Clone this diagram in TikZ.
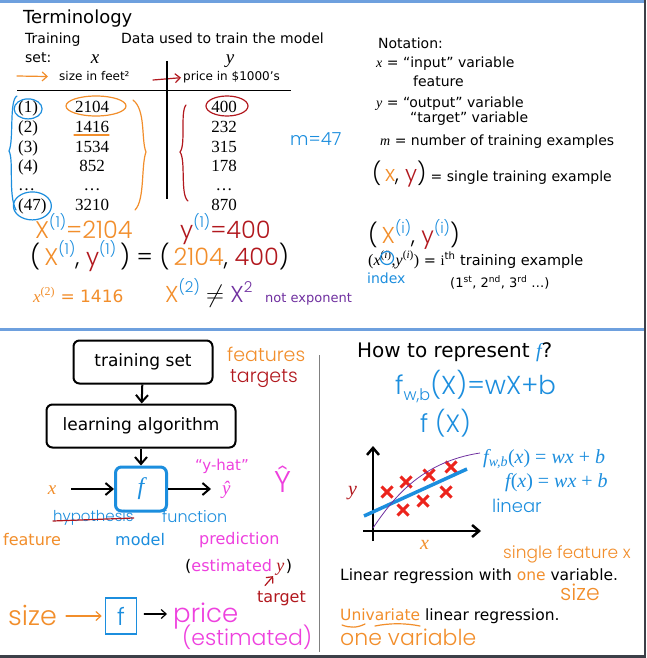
\documentclass[tikz,border=0pt]{standalone}
\usepackage{fontspec}
\setmainfont{DejaVu Sans}
\newfontfamily\hand{Poppins Light}
\newfontfamily\serif{Liberation Serif}
\usetikzlibrary{arrows.meta, positioning, calc}
\newcommand\fsz[1]{\fontsize{#1}{#1}\selectfont}
\newcommand\hsup[2]{\raisebox{.42em}{\fsz{#1}#2}}
\newcommand\mv[1]{{\serif\itshape #1}}
\definecolor{orng}{RGB}{242,142,43}
\definecolor{redd}{RGB}{178,24,30}
\definecolor{blu}{RGB}{28,142,222}
\definecolor{mag}{RGB}{238,64,222}
\definecolor{purp}{RGB}{112,48,160}
\definecolor{xred}{RGB}{236,36,28}
\definecolor{frame}{RGB}{110,160,222}
\definecolor{edge}{RGB}{60,64,72}
\tikzset{
  lbl/.style={anchor=base west, inner sep=0pt},
  lblc/.style={anchor=base, inner sep=0pt},
  body/.style={lbl, font=\fsz{14}},
  hw/.style={lbl, font=\hand\fsz{18}},
  num/.style={lblc, font=\serif\fsz{17}},
  pen/.style={line width=1.2pt, line cap=round},
  harr/.style={pen, -{Straight Barb[length=5pt,width=9pt]}},
  stepbox/.style={draw, rounded corners=6pt, line width=2pt,
                  minimum height=43pt, inner sep=0pt, font=\fsz{17}},
  flow/.style={-{Straight Barb[length=7pt,width=12pt]}, line width=2pt},
  xpt/.style={xred, line width=3pt},
}
\begin{document}
\begin{tikzpicture}[x=1pt, y=-1pt]
  \useasboundingbox (0,0) rectangle (646,658);
  \fill[white] (0,0) rectangle (646,658);
  % frame and dividers
  \draw[frame, line width=3pt] (0,1.5) -- (646,1.5);
  \draw[frame, line width=3pt] (0,329) -- (646,329);
  \draw[edge, line width=2pt] (645,0) -- (645,658);
  \draw[edge, line width=3pt] (0,656.5) -- (646,656.5);
  \draw[gray, line width=1pt] (319,355) -- (319,652);

  % --- terminology: training set table
  \node[lbl, font=\fsz{18}] (title) at (23,24) {Terminology};
  \node[body] (trn) at (25,44) {Training};
  \node[body] (setc) at (25,63) {set:};
  \node[body] (data) at (121,44) {Data used to train the model};
  \node[lblc, font=\serif\itshape\fsz{19}] (xhd) at (95,64) {x};
  \node[lblc, font=\serif\itshape\fsz{19}] (yhd) at (230,64) {y};
  \node[lbl, font=\fsz{12}] (szft) at (59,81) {size in feet²};
  \node[lbl, font=\fsz{12}] (prc) at (183,81) {price in \$1000’s};
  \coordinate (oarr) at (17,76);
  \coordinate (rarr) at (153,80);
  \draw[harr, orng] (oarr) -- ([xshift=-11pt]szft.west);
  \draw[harr, redd] (rarr) -- ([xshift=-2pt]prc.west);
  \draw[line width=1.5pt] (17,90.5) -- (291,90.5);
  \draw[line width=1.5pt] (167,61) -- (167,199);

  \foreach \n/\xv/\yv/\yy in {1/2104/400/113, 2/1416/232/132, 3/1534/315/152,
                              4/852/178/171, 47/3210/870/210} {
    \node[lbl, font=\serif\fsz{17}] (idx\n) at (18,\yy) {(\n)};
    \node[num] (xv\n) at (92,\yy) {\xv};
    \node[num] (yv\n) at (224,\yy) {\yv};
  }
  \node[lbl, font=\serif\fsz{17}] (idxd) at (18,190) {…};
  \node[num] (xvd) at (92,190) {…};
  \node[num] (yvd) at (224,190) {…};

  % hand marks on the table
  \draw[blu, pen] (idx1.center) ellipse [x radius=14pt, y radius=10pt];
  \draw[blu, pen] (idx47.center) ellipse [x radius=19pt, y radius=14pt];
  \draw[blu, pen] (17,96) .. controls (9,100) and (14,140) .. (9,151)
                          .. controls (14,160) and (8,195) .. (16,210);
  \draw[orng, pen] (133,100) .. controls (146,110) and (141,140) .. (146,152)
                             .. controls (141,165) and (145,200) .. (135,210);
  \draw[redd, pen] (186,105) .. controls (180,112) and (186,145) .. (180,152)
                             .. controls (186,160) and (180,195) .. (188,201);
  \draw[orng, pen] ($(xv1.base)+(4,-7)$) ellipse [x radius=30pt, y radius=10pt];
  \draw[redd, pen] ($(yv1.base)+(3,-7)$) ellipse [x radius=21pt, y radius=10pt];
  \draw[orng, pen] ($(xv2.base)+(-18,3)$) -- ($(xv2.base)+(17,3)$);
  \node[hw, blu] (mcnt) at (290,145) {m=47};

  \node[hw, font=\hand\fsz{24}, orng] (x1) at (35,238)
    {X\hsup{15}{\color{blu}(1)}=2104};
  \node[hw, font=\hand\fsz{24}, redd] (y1) at (180,238)
    {y\hsup{15}{\color{blu}(1)}=400};
  \node[hw, font=\hand\fsz{24}] (pair1) at (30,265)
    {(\,\textcolor{orng}{X}\hsup{15}{\color{blu}(1)}, \textcolor{redd}{y}\hsup{15}{\color{blu}(1)}\,) = (\,\textcolor{orng}{2104}, \textcolor{redd}{400})};
  \node[lbl, font=\fsz{17}, orng] (x2) at (33,302)
    {\mv{x}\textsuperscript{\serif(2)} = 1416};
  \node[hw, font=\hand\fsz{23}] (xneq) at (165,302)
    {\textcolor{orng}{X}\hsup{15}{\color{blu}(2)} $\neq$ \textcolor{purp}{X\hsup{15}{2}}};
  \node[body, font=\fsz{13}, purp] (notexp) at (265,302) {not exponent};

  % --- notation
  \node[body] (notn) at (378,49) {Notation:};
  \node[body] (xinp) at (376,68) {\mv{x} = “input” variable};
  \node[body] (feat) at (413,87) {feature};
  \node[body] (yout) at (376,107) {\mv{y} = “output” variable};
  \node[body] (ytgt) at (410,123) {“target” variable};
  \node[body] (mnum) at (380,145) {\mv{m} = number of training examples};
  \node[body] (single) at (372,181)
    {{\hand\fsz{22}(\,\textcolor{orng}{x}, \textcolor{redd}{y})} = single training example};
  \node[hw, font=\hand\fsz{23}] (pairi) at (368,243)
    {(\,\textcolor{orng}{X}\hsup{15}{\color{blu}(i)}, \textcolor{redd}{y}\hsup{15}{\color{blu}(i)})};
  \node[body, font=\fsz{14.5}] (ith) at (368,265)
    {{\serif\fsz{16}(\mv{x}\textsuperscript{(\mv{i})},\mv{y}\textsuperscript{(\mv{i})})} = {\serif i}\textsuperscript{th} training example};
  \draw[blu, pen] (387,258) circle [radius=6.5pt];
  \node[body, blu] (indx) at (367,283) {index};
  \node[body, font=\fsz{13}] (ords) at (450,287)
    {(1\textsuperscript{st}, 2\textsuperscript{nd}, 3\textsuperscript{rd} …)};

  % --- learning flow
  \node[stepbox, minimum width=139pt] (tset) at (143,362) {training set};
  \node[stepbox, minimum width=189pt] (lalg) at (141,426) {learning algorithm};
  \node[stepbox, draw=blu, line width=3pt, minimum width=51pt, minimum height=44pt,
        font=\serif\itshape\fsz{24}, text=blu] (fbox) at (141,489) {f};
  \draw[flow] (tset) -- (lalg);
  \draw[flow] (lalg) -- (fbox);
  \node[lblc, font=\serif\itshape\fsz{19}, orng] (xfeed) at (52,494) {x};
  \node[lbl, font=\serif\itshape\fsz{19}, mag] (yhat) at (222,494) {ŷ};
  \draw[flow] ($(fbox.west -| xfeed.east)+(15,0)$) -- (fbox.west);
  \draw[flow] (fbox.east) -- ($(fbox.east -| yhat.west)+(-11,0)$);
  \node[lbl, font=\fsz{15}, mag] (yhq) at (195,470) {“y-hat”};
  \node[lbl, font=\hand\fsz{30}, mag] (yhh) at (274,492) {Ŷ};
  \node[hw, font=\hand\fsz{19}, orng] (feats) at (227,361) {features};
  \node[hw, font=\hand\fsz{19}, redd] (tgts) at (230,382) {targets};

  \node[hw, blu, font=\hand\fsz{15}] (hyp) at (53,521) {hypothesis};
  \draw[redd, pen] (hyp.base west) -- ($(hyp.base east)+(0,-3)$);
  \node[hw, blu, font=\hand\fsz{16}] (func) at (162,522) {function};
  \node[lbl, font=\fsz{16}, orng] (featr) at (3,545) {feature};
  \node[lbl, font=\fsz{16}, blu] (modl) at (115,545) {model};
  \node[lbl, font=\fsz{16}, mag] (pred) at (199,544) {prediction};
  \node[lbl, font=\fsz{16}] (est) at (185,571) {(\textcolor{mag}{estimated}};
  \node[lbl, font=\serif\itshape\fsz{18}, redd] (esty) at ([xshift=4pt]est.base east) {y};
  \node[lbl, font=\fsz{16}] (estc) at ([xshift=1pt]esty.base east) {)};
  \node[lbl, font=\fsz{16}, redd] (tgt) at (257,602) {target};
  \draw[harr, redd] ($(tgt.north west)+(8,-5)$) -- ($(esty.south west)+(-3,1)$);

  \node[hw, orng, font=\hand\fsz{27}] (size) at (8,625) {size};
  \node[draw=blu, line width=1.5pt, minimum width=31pt, minimum height=36pt,
        inner sep=0pt, font=\hand\fsz{24}, text=blu] (fsq) at (121,616) {f};
  \node[hw, mag, font=\hand\fsz{26}] (price) at (173,622) {price};
  \node[hw, mag, font=\hand\fsz{22}] (pest) at (182,645) {(estimated)};
  \draw[harr, orng] ($(fsq.west -| size.east)+(9,0)$) -- ($(fsq.west)+(-3,0)$);
  \draw[harr] ($(fsq.east)+(7,-2)$) -- ($(fsq.east -| price.west)+(-6,-2)$);

  % --- how to represent f
  \node[lbl, font=\fsz{20}] (howf) at (357,357)
    {How to represent {\color{blu}\serif\itshape f}?};
  \node[hw, blu, font=\hand\fsz{26}] (fwb) at (395,394)
    {f\raisebox{-.25em}{\fsz{16}w,b}(X)=wX+b};
  \node[hw, blu, font=\hand\fsz{25}] (fx) at (420,432) {f (X)};

  \coordinate (ybot) at (373,541);
  \coordinate (ytop) at (373,446);
  \coordinate (xlft) at (363,531);
  \coordinate (xrgt) at (481,531);
  \draw[flow, line width=2.5pt] (ybot) -- (ytop);
  \draw[flow, line width=2.5pt] (xlft) -- (xrgt);
  \node[lbl, font=\serif\itshape\fsz{20}, redd] (ylab) at (348,495) {y};
  \node[lbl, font=\serif\itshape\fsz{20}, orng] (xlab) at (420,549) {x};
  \foreach \cx/\cy in {387/492, 406/482, 429/475, 451/467, 446/492, 423/501, 403/510}
    \draw[xpt] (\cx,\cy) ++(-5.5,-5.5) -- ++(11,11) ++(-11,0) -- ++(11,-11);
  \draw[blu, line width=3.5pt] (364,516) -- (467,469);
  \draw[purp, line width=0.8pt] (373,528) .. controls (392,500) and (420,462) .. (480,453);
  \node[lbl, font=\serif\fsz{20}, blu] (fwbt) at (483,463)
    {\mv{f}\textsubscript{\mv{w,b}}(\mv{x}) = \mv{wx} + \mv{b}};
  \node[lbl, font=\serif\fsz{20}, blu] (fxt) at (505,487)
    {\mv{f}(\mv{x}) = \mv{wx} + \mv{b}};
  \node[hw, blu] (lin) at (492,512) {linear};
  \node[hw, orng, font=\hand\fsz{17}] (sfx) at (503,558) {single feature x};
  \node[lbl, font=\fsz{15.5}] (linreg) at (340,580)
    {Linear regression with \textcolor{orng}{one} variable.};
  \node[hw, orng, font=\hand\fsz{22}] (sz2) at (560,600) {size};
  \node[lbl, font=\fsz{15.5}] (univ) at (340,620)
    {\textcolor{orng}{Univariate} linear regression.};
  \draw[orng, pen] (342,625) .. controls (350,628) and (357,628) .. (365,624);
  \draw[orng, pen] (375,626) .. controls (390,623) and (405,623) .. (420,626);
  \node[hw, orng, font=\hand\fsz{22}] (onev) at (340,645) {one variable};
\end{tikzpicture}
\end{document}
